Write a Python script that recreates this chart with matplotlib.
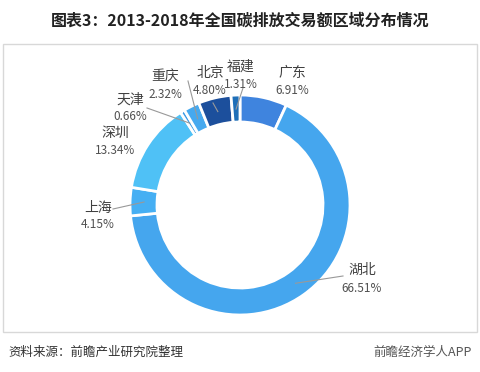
import numpy as np
import matplotlib.pyplot as plt
from matplotlib.patches import Rectangle

plt.rcParams['font.family'] = ['Noto Sans CJK SC', 'DejaVu Sans']

regions = ['广东', '湖北', '上海', '深圳', '天津', '重庆', '北京', '福建']
shares = [6.91, 66.51, 4.15, 13.34, 0.66, 2.32, 4.80, 1.31]
colors = ['#3f84de', '#45a6ee', '#46aff3', '#4fc1f6', '#3a9ae6', '#46a9ef', '#1c4f9c', '#1f6fb8']

# label text position (pixels, from top-left): centre of name line / centre of value line
label_pos = {
    '广东': (292, 73, 90), '湖北': (362, 270, 288), '上海': (98, 208, 225), '深圳': (115, 133, 150),
    '天津': (130, 100, 117), '重庆': (165, 77, 94), '北京': (210, 73, 90), '福建': (241, 67, 84),
}
line_from = {
    '湖北': (343, 276), '上海': (113, 209), '天津': (147, 108), '重庆': (188, 81),
    '北京': (213, 103), '福建': (243, 88),
}

W, H = 481, 372
fig = plt.figure(figsize=(W / 100, H / 100), dpi=100)
ax = fig.add_axes([0, 0, 1, 1])

cx, cy, R = 240, H - 205, 110
wedges, _ = ax.pie(shares, colors=colors, startangle=90, counterclock=False,
                   center=(cx, cy), radius=R, frame=True,
                   wedgeprops=dict(width=27, edgecolor='white', linewidth=2))
ax.set_xlim(0, W)
ax.set_ylim(0, H)
ax.set_aspect('equal')
ax.axis('off')

for w, name, v in zip(wedges, regions, shares):
    lx, ny, vy = label_pos[name]
    ax.text(lx, H - ny, name, ha='center', va='center', fontsize=10, color='#404040')
    ax.text(lx, H - vy, '%.2f%%' % v, ha='center', va='center', fontsize=8.5, color='#505050')
    if name in line_from:
        ang = np.deg2rad((w.theta1 + w.theta2) / 2)
        r = R - 14
        px, py = cx + r * np.cos(ang), cy + r * np.sin(ang)
        fx, fy = line_from[name]
        ax.plot([fx, px], [H - fy, py], color='#999999', lw=0.8)

ax.add_patch(Rectangle((3, H - 332), 474, 288, fill=False, edgecolor='#d8d8d8', lw=1))

fig.text(240 / W, 1 - 21 / H, '图表3：2013-2018年全国碳排放交易额区域分布情况',
         ha='center', va='center', fontsize=11.5, fontweight='bold', color='#222222')
fig.text(8 / W, 1 - 352 / H, '资料来源：前瞻产业研究院整理', ha='left', va='center',
         fontsize=9, color='#333333')
fig.text(472 / W, 1 - 352 / H, '前瞻经济学人APP', ha='right', va='center',
         fontsize=9, color='#555555')

fig.savefig('out.png', dpi=100)
